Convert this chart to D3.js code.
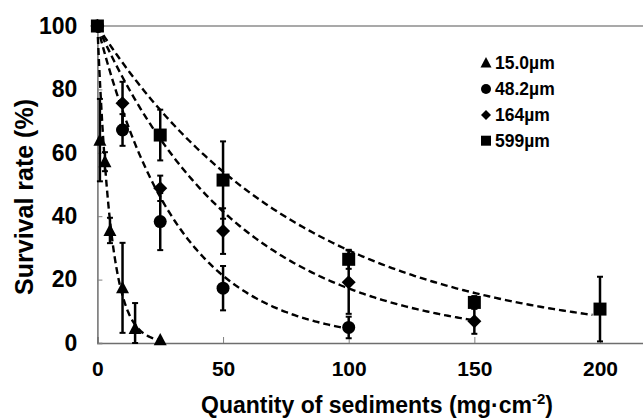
<!DOCTYPE html>
<html><head><meta charset="utf-8">
<script src="https://cdn.jsdelivr.net/npm/d3@7"></script>
<style>
html,body{margin:0;padding:0;background:#fff;overflow:hidden;}
text{font-family:"Liberation Sans",Arial,Helvetica,sans-serif;font-weight:bold;fill:#000;}
</style></head>
<body><svg id="c" width="643" height="418"></svg>
<script>
const seriesNames = ["15.0µm","48.2µm","164µm","599µm"];
const x15 = [0,1,3,5,10,15,25];
const y15 = [100,64,57.2,35.5,17.4,4.6,1];
const e15 = [0,13,3,4,14.2,8,0];
const x48 = [0,10,25,50,100];
const y48 = [100,67.2,38.3,17.3,4.9];
const e48 = [0,5,9,7,3.4];
const x164 = [0,10,25,50,100,150];
const y164 = [100,75.6,48.8,35.3,19.2,6.9];
const e164 = [0,6.8,4,7.2,10,4];
const x599 = [0,25,50,100,150,200];
const y599 = [100,65.6,51.4,26.4,12.8,10.7];
const e599 = [0,8,12.2,3,2,10.2];
// fitted exponential decay constants (survival = 100*exp(-k*x)) and curve extents
const kFit = [0.19,0.031,0.0176,0.0123];
const fitEnd = [25,100,150,197];
const xTicks = [0,50,100,150,200];
const yTicks = [0,20,40,60,80,100];

const svg = d3.select("#c");
const x = d3.scaleLinear().domain([0,220]).range([97.4,97.4+220*2.513]);
const y = d3.scaleLinear().domain([0,100]).range([343,26]);

// frame
svg.append("line").attr("x1",x(0)).attr("x2",x(220)).attr("y1",y(100)).attr("y2",y(100))
  .attr("stroke","#8c8c8c").attr("stroke-width",1.5);

// axes
const gx = svg.append("g").attr("transform",`translate(0,${y(0)})`)
  .call(d3.axisBottom(x).tickValues(xTicks).tickSize(-6).tickPadding(14).tickFormat(d3.format("d")));
const gy = svg.append("g").attr("transform",`translate(${x(0)},0)`)
  .call(d3.axisLeft(y).tickValues(yTicks).tickSize(-5).tickPadding(20).tickFormat(d3.format("d")));
[gx,gy].forEach(g=>{
  g.select(".domain").attr("stroke","#6e6e6e").attr("stroke-width",1.5);
  g.selectAll(".tick line").attr("stroke","#808080").attr("stroke-width",1);
  g.selectAll("text").style("font-family","Liberation Sans, Arial, sans-serif").style("font-weight","bold").attr("fill","#000");
});
gx.selectAll(".tick text").style("font-size","21px").attr("dy","0.9em");
gy.selectAll(".tick text").style("font-size","23px").attr("x",-20);

// axis titles
const xt = svg.append("text").attr("x",377).attr("y",413).attr("text-anchor","middle")
  .style("font-size","23px");
xt.append("tspan").text("Quantity of sediments (mg\u00b7cm");
xt.append("tspan").attr("dy",-9).style("font-size","15px").text("-2");
xt.append("tspan").attr("dy",9).text(")");
svg.append("text").attr("transform","translate(33,197) rotate(-90)").attr("text-anchor","middle")
  .style("font-size","25px").text("Survival rate (%)");

const series = [
  {xs:x15, ys:y15, es:e15, shape:"tri"},
  {xs:x48, ys:y48, es:e48, shape:"circ"},
  {xs:x164, ys:y164, es:e164, shape:"dia"},
  {xs:x599, ys:y599, es:e599, shape:"sq"}
];

function shapePath(shape, s){
  const h=s/2;
  if(shape==="tri"){ return `M0,${-h*1.05}L${h},${h*0.85}L${-h},${h*0.85}Z`; }
  if(shape==="dia"){ return `M0,${-h}L${h},0L0,${h}L${-h},0Z`; }
  if(shape==="sq"){ return `M${-h},${-h}H${h}V${h}H${-h}Z`; }
  return d3.symbol(d3.symbolCircle, Math.PI*h*h)();
}

// fitted dashed curves
const line = d3.line().x(d=>x(d[0])).y(d=>y(d[1])).curve(d3.curveLinear);
series.forEach((s,i)=>{
  const pts = d3.range(0, fitEnd[i]+0.001, fitEnd[i]/200).map(v=>[v,100*Math.exp(-kFit[i]*v)]);
  svg.append("path").attr("d",line(pts)).attr("fill","none").attr("stroke","#000")
    .attr("stroke-width",2.4).attr("stroke-dasharray","7,4");
});

// error bars and markers
const sizes = {tri:13, circ:13, dia:14, sq:13};
series.slice().reverse().forEach(s=>{
  const g = svg.append("g");
  s.xs.forEach((xv,j)=>{
    const e = s.es[j];
    if(e>0){
      const lo=Math.max(0,s.ys[j]-e), hi=s.ys[j]+e;
      g.append("line").attr("x1",x(xv)).attr("x2",x(xv)).attr("y1",y(lo)).attr("y2",y(hi))
        .attr("stroke","#000").attr("stroke-width",2.5);
      [lo,hi].forEach(v=>g.append("line").attr("x1",x(xv)-3).attr("x2",x(xv)+3)
        .attr("y1",y(v)).attr("y2",y(v)).attr("stroke","#000").attr("stroke-width",2));
    }
    g.append("path").attr("d",shapePath(s.shape,sizes[s.shape]))
      .attr("transform",`translate(${x(xv)},${y(s.ys[j])})`).attr("fill","#000");
  });
});

// legend
const legY = [62.7,89,115,140.7];
const legSz = {tri:11, circ:10, dia:10, sq:10};
series.forEach((s,i)=>{
  svg.append("path").attr("d",shapePath(s.shape,legSz[s.shape]))
    .attr("transform",`translate(486,${legY[i]})`).attr("fill","#000");
  svg.append("text").attr("x",495).attr("y",legY[i]).attr("dy","0.36em")
    .style("font-size","17.5px").text(seriesNames[i]);
});
</script></body></html>
